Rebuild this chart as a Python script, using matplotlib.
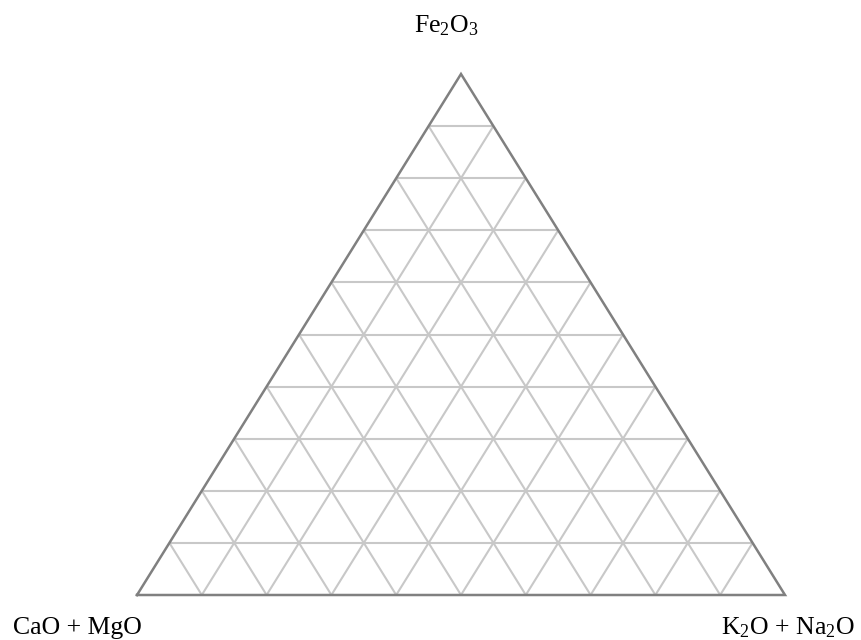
import numpy as np
import matplotlib
matplotlib.use("Agg")
import matplotlib.pyplot as plt

plt.rcParams['font.family'] = ['Liberation Serif', 'DejaVu Serif']
plt.rcParams['mathtext.fontset'] = 'custom'
plt.rcParams['mathtext.rm'] = 'Liberation Serif'
plt.rcParams['mathtext.it'] = 'Liberation Serif:italic'

# corner components: bottom-left, bottom-right, top
left_label = 'CaO + MgO'
right_label = r'K$_2$O + Na$_2$O'
top_label = r'Fe$_2$O$_3$'

# grid levels (fraction of each component)
grid_levels = [0.1, 0.2, 0.3, 0.4, 0.5, 0.6, 0.7, 0.8, 0.9]

grid_color = '#c8c8c8'
edge_color = '#808080'

H = np.sqrt(3) / 2


def to_xy(a, b, c):
    # a = bottom-left share, b = bottom-right share, c = top share
    return b + c / 2.0, c * H


fig = plt.figure(figsize=(8.61, 6.4), dpi=100)
ax = fig.add_axes([137 / 861, 45 / 640, 648 / 861, 521 / 640])
ax.set_xlim(0, 1)
ax.set_ylim(0, H)
ax.axis('off')

for t in grid_levels:
    segs = [
        ((1 - t, 0, t), (0, 1 - t, t)),   # constant top share
        ((t, 1 - t, 0), (t, 0, 1 - t)),   # constant left share
        ((1 - t, t, 0), (0, t, 1 - t)),   # constant right share
    ]
    for p, q in segs:
        x0, y0 = to_xy(*p)
        x1, y1 = to_xy(*q)
        ax.plot([x0, x1], [y0, y1], color=grid_color, lw=1.5,
                solid_capstyle='butt', zorder=1, clip_on=False)

corners = [(1, 0, 0), (0, 1, 0), (0, 0, 1), (1, 0, 0)]
xs, ys = zip(*[to_xy(*c) for c in corners])
ax.plot(xs, ys, color=edge_color, lw=1.8, zorder=2, clip_on=False,
        solid_joinstyle='miter')

fs = 18.5
fig.text(446 / 861, 1 - 32 / 640, top_label, ha='center', va='baseline', fontsize=fs)
fig.text(13 / 861, 1 - 634 / 640, left_label, ha='left', va='baseline', fontsize=fs)
fig.text(855 / 861, 1 - 634 / 640, right_label, ha='right', va='baseline', fontsize=fs)

fig.savefig('out.png', dpi=100, facecolor='white')
